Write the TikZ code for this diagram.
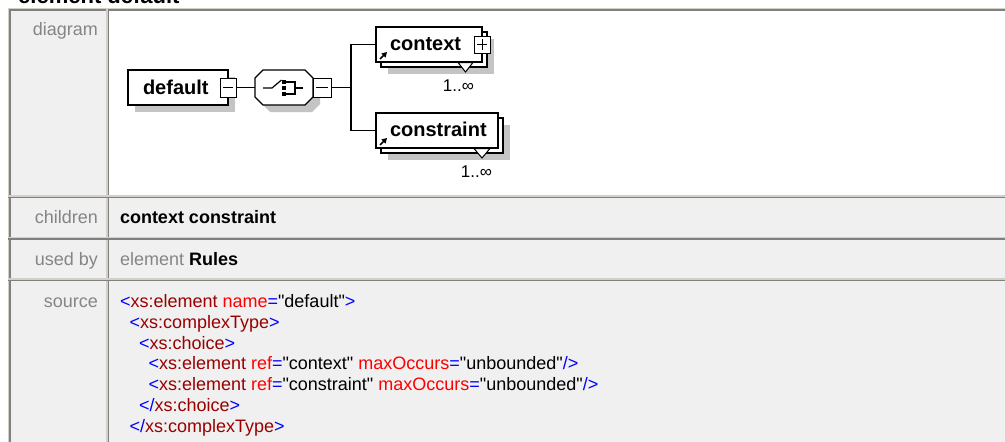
\documentclass[tikz,border=0pt]{standalone}
\usepackage{fontspec}
\setmainfont{Liberation Sans}[Ligatures=TeXOff]
\usetikzlibrary{calc,arrows.meta}

\definecolor{cellbg}{HTML}{F0F0F0}
\definecolor{lightline}{HTML}{D4D0C8}
\definecolor{darkline}{HTML}{808080}
\definecolor{labelgray}{HTML}{858585}
\definecolor{shadowgray}{HTML}{C4C4C4}
\definecolor{xblue}{HTML}{0000FF}
\definecolor{xmaroon}{HTML}{990000}
\definecolor{xred}{HTML}{FF0000}

% colour helpers for the XML listing
\newcommand\srcB[1]{\textcolor{xblue}{#1}}
\newcommand\srcM[1]{\textcolor{xmaroon}{#1}}
\newcommand\srcR[1]{\textcolor{xred}{#1}}

\begin{document}
\begin{tikzpicture}[x=1pt,y=-1pt,
  lab/.style={anchor=base east, inner sep=0, outer sep=0, text=labelgray,
    font=\fontsize{18}{21}\selectfont},
  txt/.style={anchor=base west, inner sep=0, outer sep=0,
    font=\fontsize{18}{21}\selectfont},
  eltext/.style={anchor=base west, inner sep=0, outer sep=0,
    font=\fontsize{20}{22}\selectfont\bfseries},
  occ/.style={anchor=base east, inner sep=0, outer sep=0,
    font=\fontsize{17}{19}\selectfont},
  elbox/.style={draw=black, fill=white, line width=1.3pt, inner sep=0,
    outer sep=0, minimum height=35},
  pmbox/.style={draw=black, fill=white, line width=1pt, inner sep=0,
    outer sep=0, minimum width=16, minimum height=18},
  conn/.style={draw=black, line width=1.3pt},
  shadowfill/.style={fill=shadowgray, draw=none},
  refarrow/.style={line width=1.5pt, -{Triangle[length=5pt,width=5.5pt]}},
  border/.style={line width=1.4pt}
]
\useasboundingbox (0,0) rectangle (1005,442);
\clip (0,0) rectangle (1005,442);

% ---------- page and table ----------
\fill[white] (0,0) rectangle (1005,442);
\node[anchor=base west, inner sep=0, font=\fontsize{22}{24}\selectfont\bfseries]
  (title) at (18,3) {element default};

\fill[cellbg] (8,8) rectangle (107,442);
\fill[white] (109,9) rectangle (1005,196);
\fill[cellbg] (109,196) rectangle (1005,442);

\draw[lightline, border] (8.3,442) -- (8.3,8.3) -- (1005,8.3);
\draw[darkline, border] (9.8,442) -- (9.8,9.8) -- (1005,9.8);
\draw[lightline, border] (107,9) -- (107,442);
\draw[darkline, border] (108.5,9) -- (108.5,442);
\foreach \yy in {195.8,237.3,278.8}{
  \draw[lightline, border] (8,\yy) -- (1005,\yy);
  \draw[darkline, border] (8,\yy+1.5) -- (1005,\yy+1.5);
}

% ---------- row labels ----------
\node[lab] (ldiagram)  at (98,35)  {diagram};
\node[lab] (lchildren) at (98,223) {children};
\node[lab] (lusedby)   at (98,265) {used by};
\node[lab] (lsource)   at (98,307.5) {source};

% ---------- children / used by ----------
\node[txt] (children) at (120,223) {\bfseries context constraint};
\node[txt] (usedby) at (120,265) {\textcolor{labelgray}{element} \bfseries Rules};

% ---------- source listing ----------
\node[txt] (s1) at (120,307.5)
  {\srcB{<}\srcM{xs:element} \srcR{name}\srcB{=}"default"\srcB{>}};
\node[txt] (s2) at (129.5,328.3)
  {\srcB{<}\srcM{xs:complexType}\srcB{>}};
\node[txt] (s3) at (139,349.1)
  {\srcB{<}\srcM{xs:choice}\srcB{>}};
\node[txt] (s4) at (148.5,369.9)
  {\srcB{<}\srcM{xs:element} \srcR{ref}\srcB{=}"context" \srcR{maxOccurs}\srcB{=}"unbounded"\srcB{/>}};
\node[txt] (s5) at (148.5,390.7)
  {\srcB{<}\srcM{xs:element} \srcR{ref}\srcB{=}"constraint" \srcR{maxOccurs}\srcB{=}"unbounded"\srcB{/>}};
\node[txt] (s6) at (139,411.5)
  {\srcB{</}\srcM{xs:choice}\srcB{>}};
\node[txt] (s7) at (129.5,432.3)
  {\srcB{</}\srcM{xs:complexType}\srcB{>}};

% ---------- schema diagram ----------
% element "default"
\fill[shadowfill] (135,77) rectangle (235,112);
\node[elbox, minimum width=100] (def) at (178,87.5) {};
\node[eltext] (deftext) at (143,94.5) {default};
\node[pmbox, minimum height=19] (defm) at (def.east) {};
\draw[line width=1pt] ($(defm.west)+(3,0)$) -- ($(defm.east)+(-3,0)$);

% choice compositor
\node[minimum width=58, minimum height=35, inner sep=0, outer sep=0] (ch) at (284,87.5) {};
\fill[shadowfill]
  ($(ch.north west)+(15,7)$) -- ($(ch.north east)+(-1,7)$) -- ($(ch.north east)+(7,15)$)
  -- ($(ch.south east)+(7,-1)$) -- ($(ch.south east)+(-1,7)$) -- ($(ch.south west)+(15,7)$)
  -- ($(ch.south west)+(7,-1)$) -- ($(ch.north west)+(7,15)$) -- cycle;
\draw[fill=white, line width=1.3pt]
  ($(ch.north west)+(8,0)$) -- ($(ch.north east)+(-8,0)$) -- ($(ch.north east)+(0,8)$)
  -- ($(ch.south east)+(0,-8)$) -- ($(ch.south east)+(-8,0)$) -- ($(ch.south west)+(8,0)$)
  -- ($(ch.south west)+(0,-8)$) -- ($(ch.north west)+(0,8)$) -- cycle;
\begin{scope}[shift={(ch.center)}]
  \draw[line width=1.2pt] (-21,0.5) -- (-12,0.5) -- (-2.5,-7.5);
  \fill (-2.5,-8) rectangle (2,-4);
  \fill (-2.5,-1.5) rectangle (2,2.5);
  \fill (-2.5,4.5) rectangle (2,8.5);
  \draw[line width=1.1pt] (2,-5.5) -- (11,-5.5) -- (11,6.5) -- (2,6.5);
  \draw[line width=1.1pt] (11,0.5) -- (19,0.5);
\end{scope}
\node[pmbox, minimum width=18, minimum height=19, anchor=west] (chm) at (ch.east) {};
\draw[line width=1pt] ($(chm.west)+(3,0)$) -- ($(chm.east)+(-3,0)$);

% element reference "context"
\fill[shadowfill] (388,39) rectangle (494,74);
\node[elbox, minimum width=106] (ctxback) at (434,49.5) {};
\node[elbox, minimum width=106] (ctx) at (429,44.5) {};
\node[eltext] (ctxtext) at (390,50.5) {context};
\node[pmbox, minimum height=17] (ctxp) at (ctx.east) {};
\draw[line width=1pt] ($(ctxp.west)+(3,0)$) -- ($(ctxp.east)+(-3,0)$);
\draw[line width=1pt] ($(ctxp.north)+(0,3)$) -- ($(ctxp.south)+(0,-3)$);
\draw[refarrow] ($(ctx.south west)+(4,-3)$) -- ++(7,-7);
\draw[fill=white, line width=1pt]
  ($(ctx.south east)+(-24,0.5)$) -- ($(ctx.south east)+(-9,0.5)$)
  -- ($(ctx.south east)+(-16.5,10)$) -- cycle;
\node[occ] (ctxocc) at (474,91.5) {1..∞};

% element reference "constraint"
\fill[shadowfill] (388,125) rectangle (510,160);
\node[elbox, minimum width=122] (consback) at (442,135.5) {};
\node[elbox, minimum width=122] (cons) at (437,130.5) {};
\node[eltext] (constext) at (390,136.5) {constraint};
\draw[refarrow] ($(cons.south west)+(4,-3)$) -- ++(7,-7);
\draw[fill=white, line width=1pt]
  ($(cons.south east)+(-24,0.5)$) -- ($(cons.south east)+(-8,0.5)$)
  -- ($(cons.south east)+(-16,10)$) -- cycle;
\node[occ] (consocc) at (492,177.5) {1..∞};

% connectors
\coordinate (fork) at (351,87.5);
\draw[conn] (defm.east) -- (ch.west);
\draw[conn] (chm.east) -- (fork);
\draw[conn] (fork) |- (ctx.west);
\draw[conn] (fork) |- (cons.west);
\end{tikzpicture}
\end{document}
